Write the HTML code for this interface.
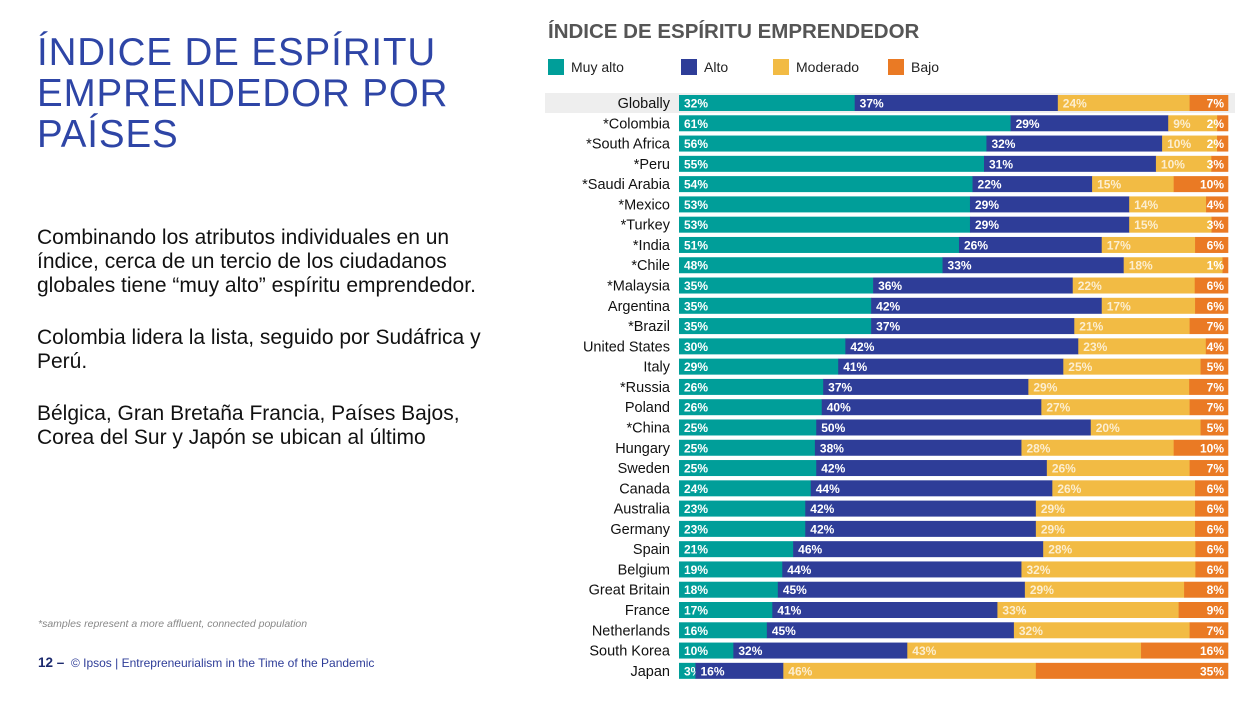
<!DOCTYPE html>
<html><head><meta charset="utf-8">
<style>
body{margin:0;width:1257px;height:701px;background:#fff;font-family:"Liberation Sans",sans-serif;position:relative;overflow:hidden}
.t{position:absolute}
</style></head>
<body>
<div class="t" style="left:37px;top:32px;font-size:38.5px;line-height:41px;color:#2e45a6;letter-spacing:0.9px">ÍNDICE DE ESPÍRITU<br>EMPRENDEDOR POR<br>PAÍSES</div>
<div class="t" style="left:37px;top:226px;width:462px;font-size:21px;line-height:24px;color:#111">
<p style="margin:0 0 28px">Combinando los atributos individuales en un índice, cerca de un tercio de los ciudadanos globales tiene “muy alto” espíritu emprendedor.</p>
<p style="margin:0 0 28px">Colombia lidera la lista, seguido por Sudáfrica y Perú.</p>
<p style="margin:0">Bélgica, Gran Bretaña Francia, Países Bajos, Corea del Sur y Japón se ubican al último</p></div>
<div class="t" style="left:38px;top:618px;font-size:10.5px;font-style:italic;color:#888">*samples represent a more affluent, connected population</div>
<div class="t" style="left:38px;top:655px;font-size:12px;color:#2e3d98"><b style="font-size:13.5px;color:#1c2a6e">12 –</b>&nbsp; © Ipsos | Entrepreneurialism in the Time of the Pandemic</div>
<svg id="chart" width="1257" height="701" style="position:absolute;left:0;top:0">
<text x="548" y="38" font-size="20.5" font-weight="bold" fill="#555">ÍNDICE DE ESPÍRITU EMPRENDEDOR</text>
</svg>
<script>
const categories=["Globally","*Colombia","*South Africa","*Peru","*Saudi Arabia","*Mexico","*Turkey","*India","*Chile","*Malaysia","Argentina","*Brazil","United States","Italy","*Russia","Poland","*China","Hungary","Sweden","Canada","Australia","Germany","Spain","Belgium","Great Britain","France","Netherlands","South Korea","Japan"];
const muyAlto=[32,61,56,55,54,53,53,51,48,35,35,35,30,29,26,26,25,25,25,24,23,23,21,19,18,17,16,10,3];
const alto=[37,29,32,31,22,29,29,26,33,36,42,37,42,41,37,40,50,38,42,44,42,42,46,44,45,41,45,32,16];
const moderado=[24,9,10,10,15,14,15,17,18,22,17,21,23,25,29,27,20,28,26,26,29,29,28,32,29,33,32,43,46];
const bajo=[7,2,2,3,10,4,3,6,1,6,6,7,4,5,7,7,5,10,7,6,6,6,6,6,8,9,7,16,35];
const seriesNames=["Muy alto","Alto","Moderado","Bajo"];
const colors=["#009e99","#2e3d98","#f2bb44","#ea7a24"];
const svg=document.getElementById('chart');
const NS="http://www.w3.org/2000/svg";
function mk(tag,attrs){const e=document.createElementNS(NS,tag);for(const k in attrs)e.setAttribute(k,attrs[k]);svg.appendChild(e);return e;}
const x0=679,x1=1228,y0=95,step=20.28,bh=16;
const rowY=i=>y0+i*step;
const legX=[548,681,773,888];
seriesNames.forEach((n,i)=>{
 const r=mk('rect',{x:legX[i],y:59,width:16,height:16,fill:colors[i]});
 
 
 const t=mk('text',{x:legX[i]+23,y:72,'font-size':14,fill:'#222'});t.textContent=n;
 
 
});
const hl=mk('rect',{x:545,y:y0-2,width:690,height:bh+4,fill:'#eeeeee'});


const series=[muyAlto,alto,moderado,bajo];
categories.forEach((c,i)=>{
 const y=rowY(i);
 const lab=mk('text',{x:670,y:y+13,'font-size':14.5,'text-anchor':'end',fill:'#111'});lab.textContent=c;
 
 
 const tot=series.reduce((s,a)=>s+a[i],0);
 let x=x0;
 series.forEach((arr,k)=>{
  const w=arr[i]/tot*(x1-x0);
  const r=mk('rect',{x:x,y:y,width:w+0.3,height:bh,fill:colors[k]});
  
  
  const last=k===3;
  const tx=last?x+w-4:x+5;
  const t=mk('text',{x:tx,y:y+12.5,'font-size':12,'font-weight':'bold','text-anchor':last?'end':'start',fill:k===2?'rgba(255,255,255,0.75)':'#fff'});
  t.textContent=arr[i]+'%';
  
  
  x+=w;
 });
});
</script>
</body></html>
